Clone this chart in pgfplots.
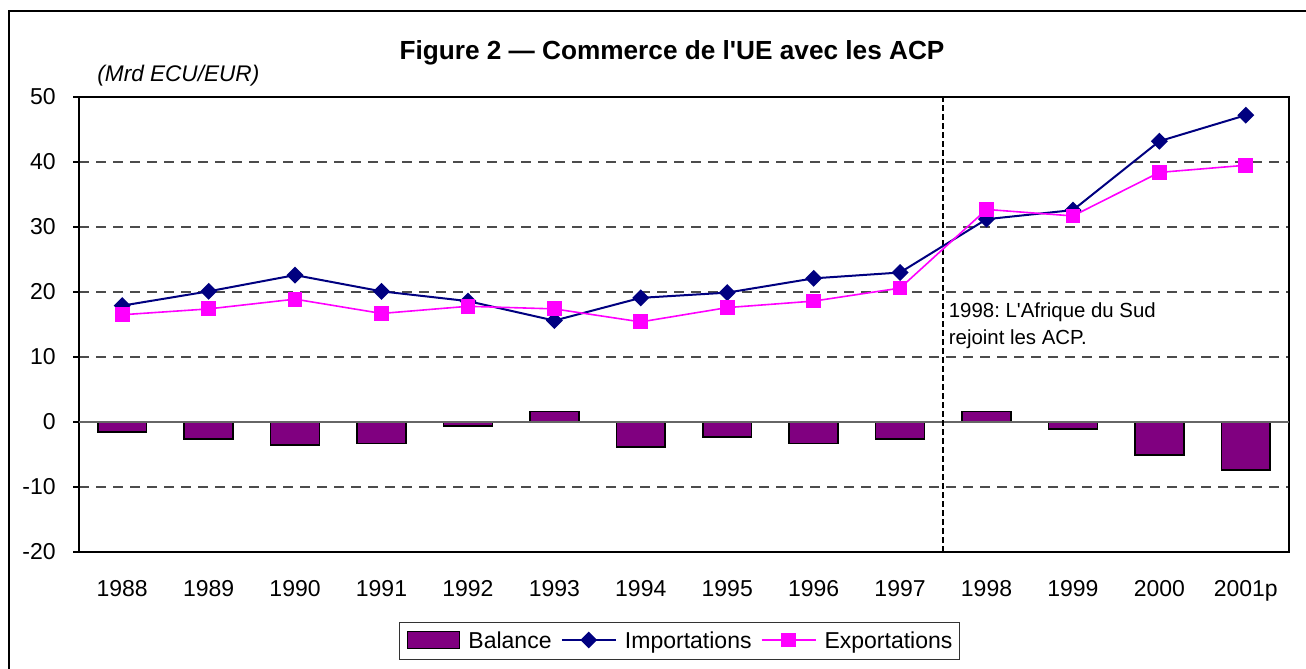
\documentclass[border=0pt]{standalone}
\usepackage{fontspec}
\setmainfont{Liberation Sans}
\newfontfamily\rawfont{Liberation Sans}
\usepackage{pgfplots}
\pgfplotsset{compat=1.18}
\definecolor{imp}{HTML}{000080}
\definecolor{exp}{HTML}{FF00FF}
\definecolor{bal}{HTML}{800080}
\frenchspacing

\pgfplotstableread{
x bal imp exp
0  -1.5 17.9 16.5
1  -2.6 20.1 17.4
2  -3.5 22.6 18.9
3  -3.3 20.1 16.7
4  -0.6 18.6 17.8
5   1.6 15.6 17.4
6  -3.8 19.1 15.4
7  -2.3 19.9 17.6
8  -3.3 22.1 18.6
9  -2.6 23.0 20.6
10  1.6 31.2 32.7
11 -1.1 32.6 31.7
12 -5.1 43.2 38.4
13 -7.4 47.2 39.5
}\datatab

\begin{document}
\frenchspacing
\begin{tikzpicture}
\useasboundingbox (0,0) rectangle (653pt,334.5pt);
\fill[white] (0,0) rectangle (653pt,334.5pt);
\draw[line width=1pt] (4.5pt,-1pt) -- (4.5pt,329pt) -- (654pt,329pt);
\node[anchor=base, inner sep=0pt, font=\rawfont\bfseries\fontsize{13.1}{15}\selectfont] at (336pt,304.75pt) {Figure 2 — Commerce de l'UE avec les ACP};
\node[anchor=base west, inner sep=0pt, font=\itshape\fontsize{11.3}{13}\selectfont] at (48.5pt,293.5pt) {(Mrd ECU/EUR)};
\begin{axis}[
  at={(39.5pt,58.5pt)}, anchor=south west, scale only axis,
  width=605pt, height=227.5pt,
  xmin=-0.5, xmax=13.5, ymin=-20, ymax=50,
  xtick={0,...,13},
  xticklabels={1988,1989,1990,1991,1992,1993,1994,1995,1996,1997,1998,1999,2000,2001p},
  ytick={-20,-10,0,10,20,30,40,50},
  yticklabels={-20,-10,0,10,20,30,40,50},
  ytick pos=left, tick align=outside, major tick length=3pt,
  x tick style={draw=none},
  y tick style={black, line width=0.6pt},
  axis line style={black, line width=0.6pt},
  ymajorgrids,
  grid style={black!70, line width=0.6pt, dash pattern=on 5pt off 3.5pt},
  tick label style={font=\fontsize{11.5}{13}\selectfont, inner sep=0pt},
  xticklabel style={anchor=base, yshift=-19.4pt},
  yticklabel style={anchor=east, xshift=-8.5pt},
  legend columns=3,
  legend style={at={(0.4963,-0.1956)}, anchor=center, draw=black!80, line width=0.6pt,
    font=\fontsize{11.5}{13}\selectfont, inner xsep=3.6pt, inner ysep=4pt,
    nodes={inner sep=0pt}, column sep=4.1pt,
    /tikz/every even column/.append style={column sep=4.6pt}},
]
\addplot[ybar, bar width=24.4pt, fill=bal, draw=black, line width=0.8pt,
  legend image code/.code={\draw[fill=bal, draw=black, line width=0.8pt] (0pt,-3.5pt) rectangle (26pt,5pt);}]
  table[x=x, y=bal] {\datatab};
\addlegendentry{Balance}
\draw[black!60, line width=0.8pt] (axis cs:-0.5,0) -- (axis cs:13.5,0);
\draw[black, line width=1.1pt, dash pattern=on 3pt off 1.5pt] (axis cs:9.5,-20) -- (axis cs:9.5,50);
\addplot[imp, line width=1pt, mark=square*, mark size=2.5pt, mark options={rotate=45, fill=imp, draw=imp},
  legend image code/.code={\draw[imp, line width=1pt] (0pt,0.75pt) -- (27pt,0.75pt);
     \fill[imp] (13.5pt,-2.75pt) -- (17pt,0.75pt) -- (13.5pt,4.25pt) -- (10pt,0.75pt) -- cycle;}]
  table[x=x, y=imp] {\datatab};
\addlegendentry{Importations}
\addplot[exp, line width=0.8pt, mark=square*, mark size=3.3pt, mark options={fill=exp, draw=exp},
  legend image code/.code={\draw[exp, line width=0.8pt] (0pt,0.75pt) -- (27pt,0.75pt);
     \fill[exp] (10.2pt,-2.55pt) rectangle (16.8pt,4.05pt);}]
  table[x=x, y=exp] {\datatab};
\addlegendentry{Exportations}
\node[anchor=base west, inner sep=0pt, font=\rawfont\fontsize{10.2}{13}\selectfont] at (axis cs:9.56,16.15) {1998:\ L'Afrique du Sud};
\node[anchor=base west, inner sep=0pt, font=\fontsize{10.2}{13}\selectfont] at (axis cs:9.56,11.95) {rejoint les ACP.};
\end{axis}
\end{tikzpicture}
\end{document}
